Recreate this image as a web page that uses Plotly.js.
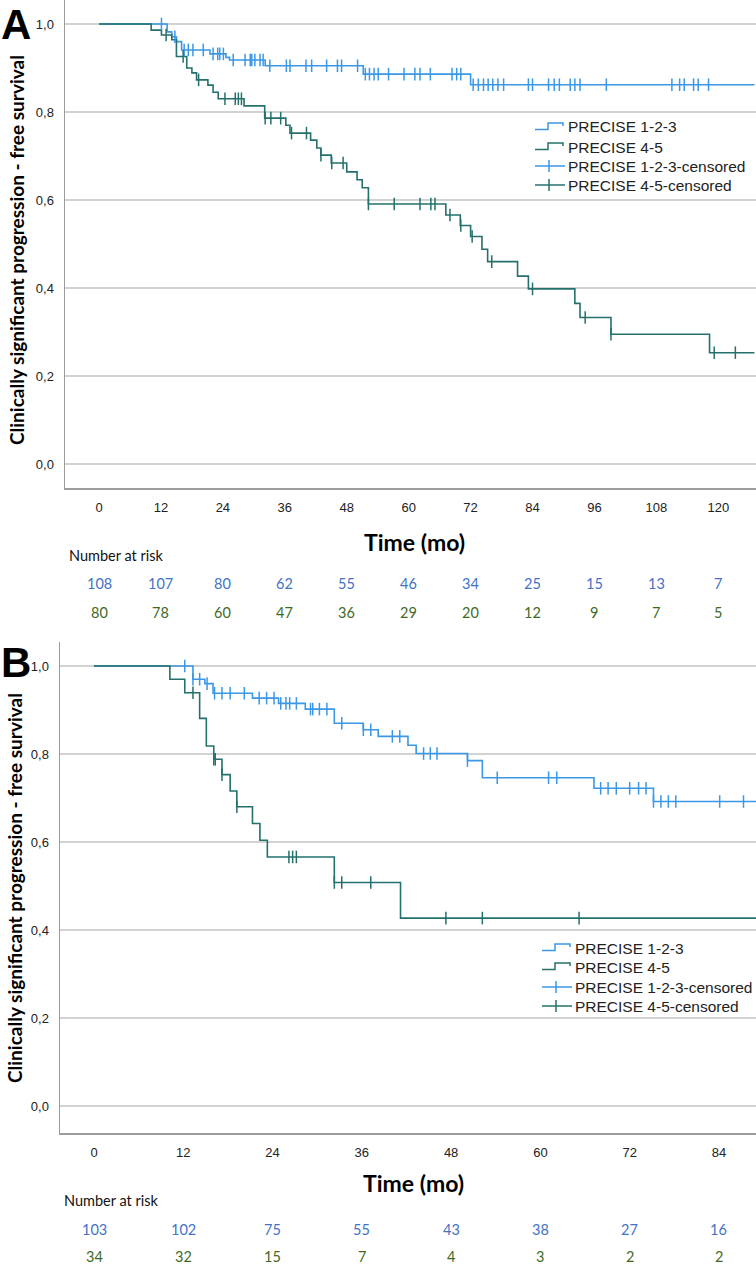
<!DOCTYPE html>
<html>
<head>
<meta charset="utf-8">
<script src="https://cdn.plot.ly/plotly-3.0.1.min.js"></script>
<style>html,body{margin:0;padding:0;background:#fff}#chart{width:756px;height:1265px}</style>
</head>
<body>
<div id="chart"></div>
<script>
// ---------- DATA ----------
// Panel A
const aTicks = [0,12,24,36,48,60,72,84,96,108,120];
const aEnd = 127;
const aLowT = [0,13.2,14.1,15.0,16.0,21.5,24.6,25.3,32.2,51.2,72.0];
const aLowS = [1,0.982,0.971,0.960,0.941,0.932,0.924,0.918,0.905,0.886,0.862];
const aLowCens = [12.1,14.7,16.5,17.3,18.2,20.2,22.1,23.0,23.4,24.1,26.0,28.3,29.3,29.6,30.2,31.2,31.8,33.1,36.3,37.0,40.1,41.2,44.1,46.2,47.0,50.1,51.6,52.4,53.3,54.1,56.1,59.1,61.2,62.2,64.2,68.4,69.3,70.1,72.5,73.5,74.5,75.4,76.3,77.3,78.4,83.2,84.0,87.1,88.2,89.2,91.3,92.2,93.2,98.3,111.0,112.5,113.4,115.2,116.1,118.1];
const aHighT = [0,10.1,12.1,14.1,15.0,17.0,18.0,18.9,21.1,22.1,23.1,28.1,32.1,36.2,37.0,41.0,42.2,43.0,45.0,48.0,50.0,51.0,52.2,67.2,70.0,72.0,74.2,75.3,81.1,83.2,92.2,93.2,99.2,118.3];
const aHighS = [1,0.986,0.975,0.964,0.926,0.900,0.889,0.873,0.861,0.845,0.830,0.814,0.786,0.770,0.752,0.736,0.718,0.702,0.684,0.664,0.646,0.628,0.591,0.566,0.542,0.517,0.488,0.460,0.427,0.398,0.365,0.333,0.295,0.253];
const aHighCens = [13.0,16.3,19.3,24.4,26.4,27.0,27.6,32.2,33.3,35.2,37.3,40.2,43.0,45.1,47.3,52.2,57.2,62.2,64.3,65.1,68.0,70.1,72.3,76.1,84.0,94.2,99.2,119.2,123.3];
const aRiskLow = [108,107,80,62,55,46,34,25,15,13,7];
const aRiskHigh = [80,78,60,47,36,29,20,12,9,7,5];

// Panel B
const bTicks = [0,12,24,36,48,60,72,84];
const bEnd = 89;
const bLowT = [0,13.3,14.9,16.0,21.3,24.8,28.4,32.3,36.2,38.2,42.2,43.3,50.2,52.2,67.2,75.2];
const bLowS = [1,0.970,0.960,0.938,0.927,0.915,0.902,0.870,0.855,0.840,0.820,0.801,0.785,0.746,0.722,0.692];
const bLowCens = [12.2,13.3,14.2,15.2,16.2,17.2,18.3,20.2,22.2,23.2,24.2,25.1,25.8,26.3,27.2,29.1,29.4,30.3,31.3,33.3,36.2,37.2,40.1,41.1,44.3,45.2,46.1,50.2,54.2,61.1,62.2,68.1,69.1,70.2,72.0,73.2,74.2,75.2,76.2,77.2,78.2,84.1,87.3];
const bHighT = [0,10.2,12.2,14.2,15.1,16.1,17.2,18.3,19.2,21.3,22.3,23.3,32.3,41.2];
const bHighS = [1,0.970,0.939,0.881,0.818,0.788,0.753,0.716,0.680,0.642,0.604,0.566,0.508,0.427];
const bHighCens = [13.3,16.1,16.3,17.2,19.2,26.2,26.7,27.2,32.3,33.3,37.2,47.3,52.2,65.2];
const bRiskLow = [103,102,75,55,43,38,27,16];
const bRiskHigh = [34,32,15,7,4,3,2,2];

const yTickVals = [0,0.2,0.4,0.6,0.8,1.0];
const yTickText = ['0,0','0,2','0,4','0,6','0,8','1,0'];
const seriesNames = ['PRECISE 1-2-3','PRECISE 4-5','PRECISE 1-2-3-censored','PRECISE 4-5-censored'];
const yTitle = 'Clinically significant progression - free survival';
const xTitle = 'Time (mo)';

// ---------- STYLE ----------
const W = 756, H = 1265;
const cLow = '#3a98e6', cHigh = '#24706c';
const cRiskLow = '#4472c4', cRiskHigh = '#3f6a25';
const px = x => x / W;
const py = y => 1 - y / H;

function stepTrace(T, S, end, color, xa, ya) {
  return {x: T.concat([end]), y: S.concat([S[S.length-1]]), mode: 'lines',
    line: {shape: 'hv', color: color, width: 1.6}, xaxis: xa, yaxis: ya,
    showlegend: false, hoverinfo: 'skip'};
}
function survAt(T, S, t) {
  let v = S[0];
  for (let i = 0; i < T.length; i++) if (T[i] <= t) v = S[i];
  return v;
}
function censTrace(C, T, S, color, xa, ya) {
  return {x: C, y: C.map(t => survAt(T, S, t)), mode: 'markers',
    marker: {symbol: 'line-ns-open', size: 9, line: {color: color, width: 1.5}, color: color},
    xaxis: xa, yaxis: ya, showlegend: false, hoverinfo: 'skip', cliponaxis: false};
}

const data = [
  stepTrace(aLowT, aLowS, aEnd, cLow, 'x', 'y'),
  stepTrace(aHighT, aHighS, aEnd, cHigh, 'x', 'y'),
  censTrace(aLowCens, aLowT, aLowS, cLow, 'x', 'y'),
  censTrace(aHighCens, aHighT, aHighS, cHigh, 'x', 'y'),
  stepTrace(bLowT, bLowS, bEnd, cLow, 'x2', 'y2'),
  stepTrace(bHighT, bHighS, bEnd, cHigh, 'x2', 'y2'),
  censTrace(bLowCens, bLowT, bLowS, cLow, 'x2', 'y2'),
  censTrace(bHighCens, bHighT, bHighS, cHigh, 'x2', 'y2')
];

const tickFont = {family: 'Liberation Sans, Arial, sans-serif', size: 13, color: '#222'};
const axLine = '#9c9c9c';
function xAx(domain, range, ticks, anchor) {
  return {domain: domain, range: range, tickvals: ticks, ticktext: ticks.map(String),
    showgrid: false, zeroline: false, showline: true, linecolor: axLine, linewidth: 1.5,
    ticks: 'outside', ticklen: 7, tickcolor: 'rgba(0,0,0,0)', tickfont: tickFont,
    anchor: anchor, fixedrange: true};
}
function yAx(domain, range, anchor) {
  return {domain: domain, range: range, tickvals: yTickVals, ticktext: yTickText,
    showgrid: true, gridcolor: '#d2d2d2', gridwidth: 1.5, zeroline: false,
    showline: true, linecolor: axLine, linewidth: 1.5,
    ticks: 'outside', ticklen: 7, tickcolor: 'rgba(0,0,0,0)', tickfont: tickFont,
    anchor: anchor, fixedrange: true};
}

const annotations = [];
const shapes = [];
function txt(text, x, y, font, opts) {
  annotations.push(Object.assign({text: text, x: px(x), y: py(y), xref: 'paper', yref: 'paper',
    showarrow: false, font: font, xanchor: 'center', yanchor: 'middle'}, opts || {}));
}
const calibri = 'Lato, Carlito, Calibri, sans-serif';
// panel letters
txt('<b>A</b>', 0, 0, {family: 'Liberation Sans, Arial', size: 42, color: '#000'}, {xanchor: 'left', yanchor: 'top', borderpad: 0});
txt('<b>B</b>', 0, 638, {family: 'Liberation Sans, Arial', size: 42, color: '#000'}, {xanchor: 'left', yanchor: 'top', borderpad: 0});
// y titles
txt('<b>' + yTitle + '</b>', 17, 250, {family: calibri, size: 19, color: '#000'}, {textangle: -90});
txt('<b>' + yTitle + '</b>', 14, 888, {family: calibri, size: 19, color: '#000'}, {textangle: -90});
// x titles
txt('<b>' + xTitle + '</b>', 414, 542, {family: calibri, size: 23, color: '#000'});
txt('<b>' + xTitle + '</b>', 413, 1183, {family: calibri, size: 23, color: '#000'});
// number at risk
txt('Number at risk', 67, 555, {family: calibri, size: 14.5, color: '#111'}, {xanchor: 'left'});
txt('Number at risk', 62, 1200, {family: calibri, size: 14.5, color: '#111'}, {xanchor: 'left'});
aTicks.forEach((t, i) => {
  annotations.push({text: String(aRiskLow[i]), x: t, xref: 'x', y: py(583), yref: 'paper', showarrow: false,
    font: {family: calibri, size: 14.5, color: cRiskLow}, xanchor: 'center', yanchor: 'middle'});
  annotations.push({text: String(aRiskHigh[i]), x: t, xref: 'x', y: py(612), yref: 'paper', showarrow: false,
    font: {family: calibri, size: 14.5, color: cRiskHigh}, xanchor: 'center', yanchor: 'middle'});
});
bTicks.forEach((t, i) => {
  annotations.push({text: String(bRiskLow[i]), x: t, xref: 'x2', y: py(1229), yref: 'paper', showarrow: false,
    font: {family: calibri, size: 14.5, color: cRiskLow}, xanchor: 'center', yanchor: 'middle'});
  annotations.push({text: String(bRiskHigh[i]), x: t, xref: 'x2', y: py(1256), yref: 'paper', showarrow: false,
    font: {family: calibri, size: 14.5, color: cRiskHigh}, xanchor: 'center', yanchor: 'middle'});
});

// legends (drawn manually)
function legend(lx, tx, rows) {
  const colors = [cLow, cHigh, cLow, cHigh];
  rows.forEach((cy, i) => {
    const c = colors[i];
    if (i < 2) {
      const p = 'M' + px(lx) + ',' + py(cy + 2.5) + ' L' + px(lx + 13) + ',' + py(cy + 2.5) +
        ' L' + px(lx + 13) + ',' + py(cy - 4) + ' L' + px(lx + 28) + ',' + py(cy - 4) +
        ' L' + px(lx + 28) + ',' + py(cy - 1);
      shapes.push({type: 'path', path: p, xref: 'paper', yref: 'paper', line: {color: c, width: 1.5}});
    } else {
      shapes.push({type: 'line', xref: 'paper', yref: 'paper', x0: px(lx), x1: px(lx + 30), y0: py(cy), y1: py(cy), line: {color: c, width: 1.5}});
      shapes.push({type: 'line', xref: 'paper', yref: 'paper', x0: px(lx + 14), x1: px(lx + 14), y0: py(cy - 6), y1: py(cy + 6), line: {color: c, width: 1.5}});
    }
    txt(seriesNames[i], tx, cy, {family: 'Liberation Sans, Arial, sans-serif', size: 15.5, color: '#222'}, {xanchor: 'left'});
  });
}
legend(535, 566, [127, 147, 166, 185]);
legend(542, 573, [948, 967, 987, 1006]);

const layout = {
  width: W, height: H, margin: {l: 0, r: 0, t: 0, b: 0},
  paper_bgcolor: '#fff', plot_bgcolor: '#fff', showlegend: false,
  xaxis: xAx([px(65), 1], [-6.59, 127.3], aTicks, 'y'),
  yaxis: yAx([py(488), 1], [-0.0545, 1.0545], 'x'),
  xaxis2: xAx([px(60), 1], [-4.57, 88.98], bTicks, 'y2'),
  yaxis2: yAx([py(1133), py(642)], [-0.0614, 1.0545], 'x2'),
  annotations: annotations, shapes: shapes
};
Plotly.newPlot('chart', data, layout, {displayModeBar: false, staticPlot: true});
</script>
</body>
</html>
